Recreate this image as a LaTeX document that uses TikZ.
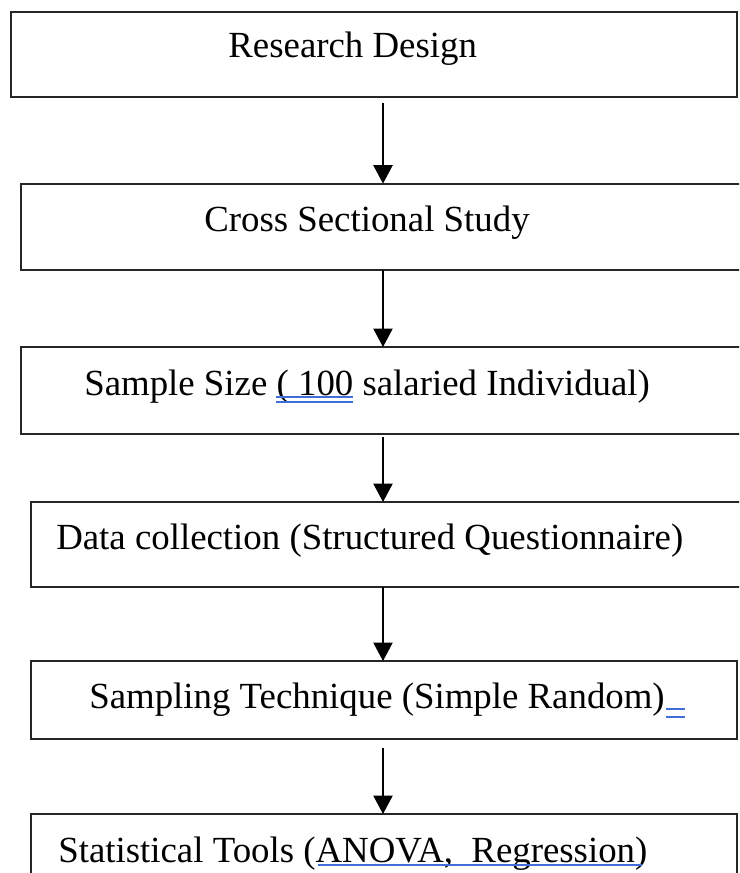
\documentclass[tikz,border=0pt]{standalone}
\usepackage{fontspec}
\setmainfont{Liberation Serif}
\usetikzlibrary{arrows.meta,calc}
\definecolor{wordblue}{HTML}{3F6FD6}

\begin{document}
\begin{tikzpicture}[
        font=\fontsize{26.2pt}{31pt}\selectfont,
        >={Triangle[width=4.8mm, length=4.6mm]},
        stepbox/.style={draw=black!85, line width=1.4pt, fill=white,
                   inner sep=0pt, outer sep=0pt, anchor=north west},
        steptxt/.style={anchor=base west, inner sep=0pt},
        flow/.style={->, line width=1.1pt, black},
        gramline/.style={wordblue, line width=0.9pt},
    ]
        \useasboundingbox (0,0) rectangle (18.475,-21.825);
        \clip (0,0) rectangle (18.475,-21.825);
        % Steps, top to bottom.
        \node[stepbox, minimum width=18.16cm, minimum height=2.125cm] (design) at (0.263,-0.30) {};
        \node[stepbox, minimum width=18.6cm, minimum height=2.16cm]   (cross)  at (0.52,-4.59)  {};
        \node[stepbox, minimum width=18.6cm, minimum height=2.175cm]  (size)   at (0.52,-8.675) {};
        \node[stepbox, minimum width=18.4cm, minimum height=2.125cm]  (collect) at (0.775,-12.55) {};
        \node[stepbox, minimum width=17.65cm, minimum height=1.95cm]  (sampling) at (0.775,-16.525) {};
        \node[stepbox, minimum width=17.65cm, minimum height=2.2cm]   (tools)  at (0.775,-20.35) {};
        % Texts in the steps.
        \node[steptxt] (designtxt)   at ([shift={(5.44,-1.15)}]design.north west) {Research Design};
        \node[steptxt] (crosstxt)    at ([shift={(4.58,-1.185)}]cross.north west) {Cross Sectional Study};
        \node[steptxt] (sizetxt)     at ([shift={(1.58,-1.20)}]size.north west) {Sample Size ( 100 salaried Individual)};
        \node[steptxt] (collecttxt)  at ([shift={(0.625,-1.175)}]collect.north west) {Data collection (Structured Questionnaire)};
        \node[steptxt] (samplingtxt) at ([shift={(1.45,-1.175)}]sampling.north west) {Sampling Technique (Simple Random)};
        \node[steptxt] (toolstxt)    at ([shift={(0.675,-1.20)}]tools.north west) {Statistical Tools (ANOVA,\ \ Regression)};
        % Blue proofing marks.
        \draw[gramline] ([shift={(4.80,-0.05)}]sizetxt.base west) -- ++(1.92,0);
        \draw[gramline] ([shift={(4.80,-0.175)}]sizetxt.base west) -- ++(1.92,0);
        \draw[gramline] ([shift={(0.03,-0.025)}]samplingtxt.base east) -- ++(0.475,0);
        \draw[gramline] ([shift={(0.03,-0.225)}]samplingtxt.base east) -- ++(0.475,0);
        \draw[gramline] ([shift={(6.49,-0.075)}]toolstxt.base west) -- ++(8.10,0);
        % Arrows down the spine.
        \coordinate (spine) at (9.575,0);
        \draw[flow, shorten <=1.5mm]  (design.south -| spine)   -- (cross.north -| spine);
        \draw[flow]                   (cross.south -| spine)    -- (size.north -| spine);
        \draw[flow, shorten <=0.75mm] (size.south -| spine)     -- (collect.north -| spine);
        \draw[flow]                   (collect.south -| spine)  -- (sampling.north -| spine);
        \draw[flow, shorten <=2.25mm] (sampling.south -| spine) -- (tools.north -| spine);
    \end{tikzpicture}
\end{document}
